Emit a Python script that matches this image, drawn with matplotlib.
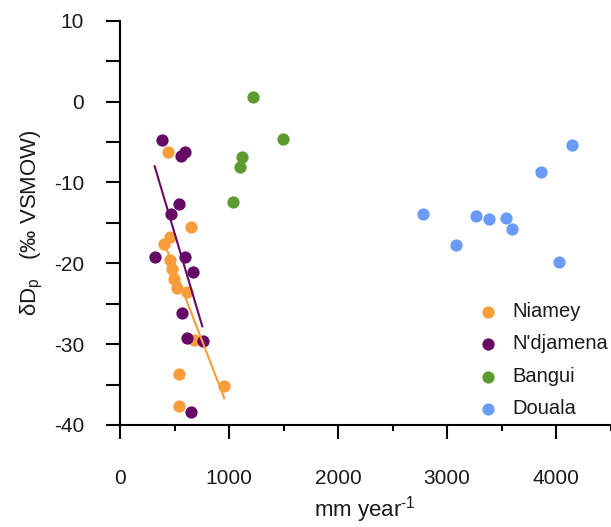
import matplotlib
matplotlib.use("Agg")
import matplotlib.pyplot as plt
import numpy as np

plt.rcParams['font.family'] = ['Liberation Sans', 'DejaVu Sans']
plt.rcParams['axes.unicode_minus'] = False

### values
niamey_x = [437, 651, 459, 407, 459, 474, 495, 526, 612, 679, 538, 957, 538]
niamey_y = [-6.2, -15.5, -16.8, -17.6, -19.6, -20.7, -22.0, -23.1, -23.6, -29.5, -33.7, -35.2, -37.7]

ndjamena_x = [382, 596, 557, 541, 468, 318, 599, 673, 566, 612, 759, 651]
ndjamena_y = [-4.7, -6.2, -6.7, -12.7, -13.9, -19.2, -19.2, -21.1, -26.1, -29.3, -29.6, -38.4]

bangui_x = [1223, 1495, 1122, 1104, 1040]
bangui_y = [0.6, -4.6, -6.9, -8.1, -12.4]

douala_x = [4144, 3862, 2780, 3269, 3388, 3538, 3596, 3086, 4025]
douala_y = [-5.4, -8.7, -13.9, -14.2, -14.5, -14.4, -15.8, -17.8, -19.8]

# trend line end points as drawn
niamey_fit_x = [407, 957]
niamey_fit_y = [-17.5, -36.7]
ndjamena_fit_x = [318, 755]
ndjamena_fit_y = [-8.0, -27.8]

c_orange = '#F99D3A'
c_purple = '#660A66'
c_green = '#5E9A32'
c_blue = '#6A9BF7'

fig = plt.figure(figsize=(6.11, 5.27), dpi=100)
ax = fig.add_axes([120 / 611, 1 - 425 / 527, 490.5 / 611, 404.3 / 527])

ms = 78
ax.scatter(niamey_x, niamey_y, s=ms, color=c_orange, label='Niamey', zorder=3, linewidths=0)
ax.scatter(ndjamena_x, ndjamena_y, s=ms, color=c_purple, label="N'djamena", zorder=3, linewidths=0)
ax.scatter(bangui_x, bangui_y, s=ms, color=c_green, label='Bangui', zorder=3, linewidths=0)
ax.scatter(douala_x, douala_y, s=ms, color=c_blue, label='Douala', zorder=3, linewidths=0)

ax.plot(niamey_fit_x, niamey_fit_y, color=c_orange, lw=1.5, zorder=4)
ax.plot(ndjamena_fit_x, ndjamena_fit_y, color=c_purple, lw=1.5, zorder=4)

ax.set_xlim(0, 4500)
ax.set_ylim(-40, 10)
ax.set_xticks([0, 1000, 2000, 3000, 4000])
ax.set_xticks([500, 1500, 2500, 3500, 4500], minor=True)
ax.set_yticks([10, 0, -10, -20, -30, -40])
ax.set_yticks([5, -5, -15, -25, -35], minor=True)

for s in ['top', 'right']:
    ax.spines[s].set_visible(False)
for s in ['left', 'bottom']:
    ax.spines[s].set_linewidth(1.5)
    ax.spines[s].set_clip_on(False)

ax.tick_params(axis='both', which='both', direction='out', width=1.5, colors='black',
               labelcolor='#1a1a1a', labelsize=15)
ax.tick_params(axis='y', which='both', length=10, pad=16)
ax.tick_params(axis='x', which='major', length=10, pad=22)
ax.tick_params(axis='x', which='minor', length=4.5)

ax.set_xlabel('mm year$^{\\mathregular{\u20101}}$', fontsize=16, color='#1a1a1a', labelpad=4)
ax.set_ylabel('δD$_{\\mathregular{p}}$   (‰ VSMOW)', fontsize=16, color='#1a1a1a', labelpad=6)

leg = ax.legend(loc='upper left', bbox_to_anchor=(478 / 611, 1 - 302 / 527),
                bbox_transform=fig.transFigure, frameon=False, fontsize=14.5,
                handlelength=1.0, handletextpad=0.7, labelspacing=0.67, borderpad=0,
                borderaxespad=0, scatterpoints=1)
for t in leg.get_texts():
    t.set_color('#1a1a1a')

fig.savefig('out.png', dpi=100)
